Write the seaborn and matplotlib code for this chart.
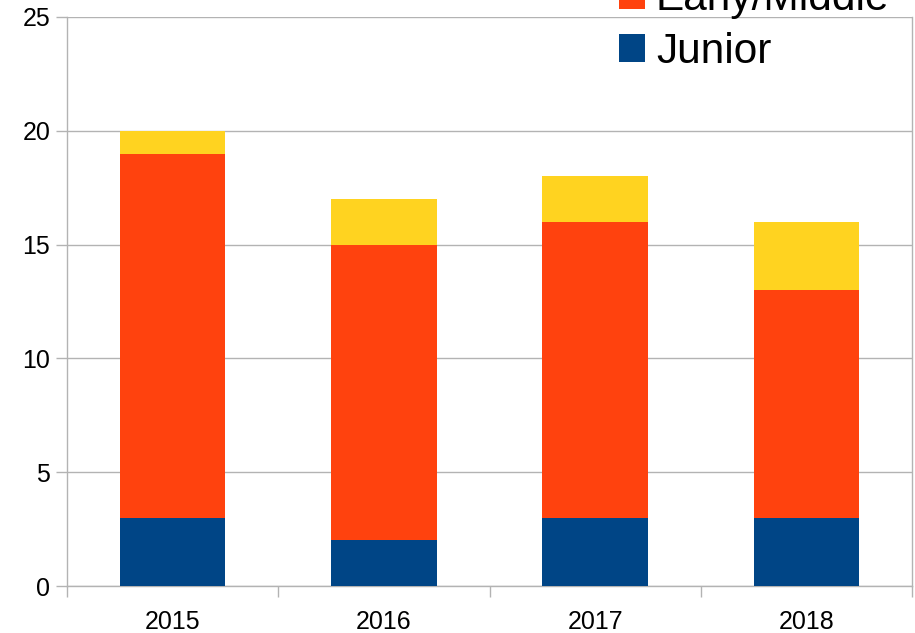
import matplotlib
matplotlib.use("Agg")
import matplotlib.pyplot as plt
from matplotlib.patches import Patch
import seaborn as sns
import pandas as pd
import numpy as np

years = ["2015", "2016", "2017", "2018"]
junior = [3, 2, 3, 3]
early_middle = [16, 13, 13, 10]
senior = [1, 2, 2, 3]
series_names = ["Senior", "Early/Middle", "Junior"]
colors = {"Junior": "#004586", "Early/Middle": "#ff420e", "Senior": "#ffd320"}
y_ticks = [0, 5, 10, 15, 20, 25]

sns.set_theme(style="white")
plt.rcParams["font.family"] = ["Liberation Sans", "DejaVu Sans"]
plt.rcParams["text.color"] = "black"

W, H = 915, 633
fig = plt.figure(figsize=(W / 100, H / 100), dpi=100)
ax = fig.add_axes([67 / W, (H - 586) / H, (912 - 67) / W, (586 - 17) / H])

df = pd.DataFrame({"year": years, "Junior": junior,
                   "Early/Middle": early_middle, "Senior": senior})
df["lvl2"] = df["Junior"] + df["Early/Middle"]
df["lvl3"] = df["lvl2"] + df["Senior"]

grid_c = "#b3b3b3"
ax.set_axisbelow(True)
ax.yaxis.grid(True, color=grid_c, linewidth=1)

sns.barplot(data=df, x="year", y="lvl3", color=colors["Senior"], width=0.5,
            saturation=1, ax=ax, linewidth=0, zorder=2)
sns.barplot(data=df, x="year", y="lvl2", color=colors["Early/Middle"], width=0.5,
            saturation=1, ax=ax, linewidth=0, zorder=3)
sns.barplot(data=df, x="year", y="Junior", color=colors["Junior"], width=0.5,
            saturation=1, ax=ax, linewidth=0, zorder=4)

ax.set_xlim(-0.5, 3.5)
ax.set_ylim(0, 25)
ax.set_yticks(y_ticks)
ax.set_xlabel("")
ax.set_ylabel("")

for side in ["left", "right", "bottom"]:
    ax.spines[side].set_visible(True)
    ax.spines[side].set_color(grid_c)
    ax.spines[side].set_linewidth(1)
ax.spines["top"].set_visible(False)

ax.tick_params(axis="y", which="major", left=True, length=8, width=1,
               color=grid_c, labelsize=18, labelcolor="black", pad=4)
ax.tick_params(axis="x", which="major", bottom=False, labelsize=18,
               labelcolor="black", pad=11)
ax.set_xticks(np.arange(-0.5, 4, 1.0), minor=True)
ax.tick_params(axis="x", which="minor", bottom=True, length=8, width=1,
               color=grid_c)

handles = [Patch(facecolor=colors[n], edgecolor="none", label=n) for n in series_names]
leg = fig.legend(handles=handles, loc="lower left",
                 bbox_to_anchor=(619 / W, 1 - 72 / H), frameon=False,
                 fontsize=30.5, handlelength=0.62, handleheight=0.62,
                 handletextpad=0.25, labelspacing=0.3, borderpad=0, borderaxespad=0)
for t in leg.get_texts():
    t.set_color("black")

fig.savefig("out.png", dpi=100)
